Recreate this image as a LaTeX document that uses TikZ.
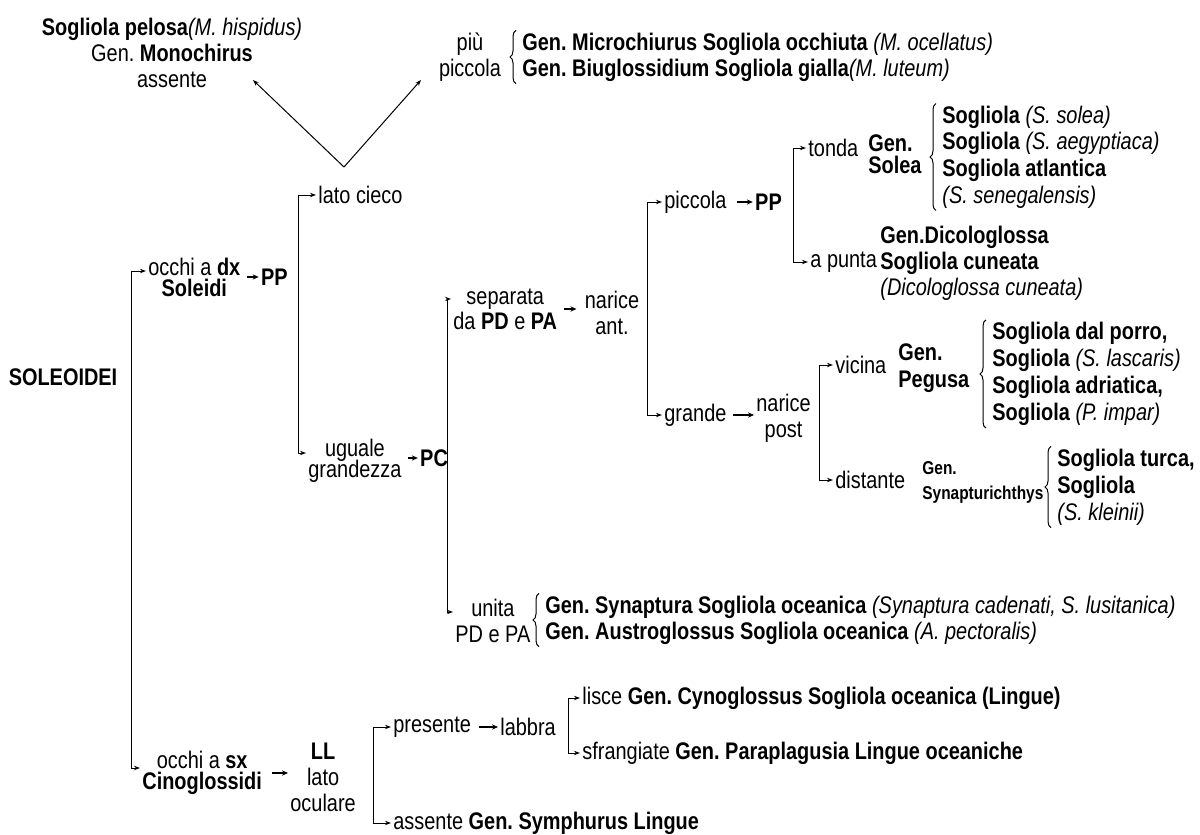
\documentclass[tikz,border=0pt]{standalone}
\usepackage{fontspec}
\setmainfont{Liberation Sans}[FakeStretch=0.83]
\usetikzlibrary{positioning,arrows.meta,decorations.pathreplacing}
\lineskiplimit=-10pt
\frenchspacing

\begin{document}
\begin{tikzpicture}[x=0.5pt,y=-0.5pt,
  every node/.style={inner sep=1pt, font=\fontsize{12}{13}\selectfont},
  txt/.style={anchor=west, align=left},
  ctr/.style={align=center},
  tight/.style={font=\fontsize{12}{10.5}\selectfont},
  bf/.style={font=\fontsize{12}{13}\selectfont\bfseries},
  brk/.style={line width=0.5pt, -{Stealth[length=3pt,width=2.2pt]}},
  arr/.style={line width=0.8pt, shorten <=2pt, -{Stealth[length=3pt,width=2.6pt]}},
  curly/.style={decorate, decoration={brace, amplitude=3pt}, line width=0.5pt}
]
\useasboundingbox (0,0) rectangle (1200,835);

% root and first split
\node[bf] (root) at (63,377) {SOLEOIDEI};
\coordinate (b0) at (131,520);
\node[tight, ctr, anchor=west] (dx) at (146,277) {occhi a \textbf{dx}\\\textbf{Soleidi}};
\node[bf, right=8pt of dx] (pp1) {PP};
\node[tight, ctr, anchor=west] (sx) at (140,773) {occhi a \textbf{sx}\\\textbf{Cinoglossidi}};
\draw[brk] (b0) |- ([yshift=3pt]dx.west);
\draw[brk] (b0) |- ([yshift=2.5pt]sx.west);
\draw[arr] (dx) -- (pp1);

% Soleidi: pinna pettorale
\coordinate (b1) at (298,325);
\node[anchor=west] (lato) at (316,195) {lato cieco};
\node[tight, ctr, anchor=west] (ugu) at (306,461) {uguale\\grandezza};
\node[bf, right=7pt of ugu, yshift=1.5pt] (pc) {PC};
\draw[brk] (b1) |- (lato.west);
\draw[brk] (b1) |- ([yshift=4pt]ugu.west);
\draw[arr] (ugu.east |- pc.west) -- (pc.west);

% lato cieco
\coordinate (v) at (344,167);
\coordinate (tipl) at (253,80);
\coordinate (tipr) at (421,80);
\node[ctr] (mono) at (172,53) {\textbf{Sogliola pelosa}\textit{(M. hispidus)}\\Gen. \textbf{Monochirus}\\assente};
\node[ctr] (piu) at (470,57) {più\\piccola};
\node[txt] (gen1) at (520,57) {\textbf{Gen. Microchiurus Sogliola occhiuta} \textit{(M. ocellatus)}\\\textbf{Gen. Biuglossidium Sogliola gialla}\textit{(M. luteum)}};
\draw[brk] (v) -- (tipl);
\draw[brk] (v) -- (tipr);
\draw[curly] ([xshift=-2pt]gen1.south west) -- ([xshift=-2pt]gen1.north west);

% pinna caudale
\coordinate (b2) at (447,455);
\node[ctr, anchor=west, font=\fontsize{12}{12.5}\selectfont] (sep) at (451,309) {separata\\da \textbf{PD} e \textbf{PA}};
\node[ctr] (ant) at (612,313) {narice\\ant.};
\node[ctr, anchor=west] (uni) at (453,621) {unita\\PD e PA};
\node[txt] (gen5) at (543,620) {\textbf{Gen. Synaptura Sogliola oceanica} \textit{(Synaptura cadenati, S. lusitanica)}\\\textbf{Gen. Austroglossus Sogliola oceanica} \textit{(A. pectoralis)}};
\draw[brk] (b2) |- ([yshift=5pt]sep.west);
\draw[brk] (b2) |- ([yshift=4.5pt]uni.west);
\draw[arr, shorten >=3pt] (sep.east) -- (sep.east -| ant.west);
\draw[curly] ([xshift=-2pt]gen5.south west) -- ([xshift=-2pt]gen5.north west);

% narice anteriore
\coordinate (b3) at (647,310);
\node[anchor=west] (picc) at (662,202) {piccola};
\node[bf, right=12pt of picc] (pp2) {PP};
\node[anchor=west] (gra) at (662,415) {grande};
\node[ctr, anchor=west] (post) at (754,418) {narice\\post};
\draw[brk] (b3) |- (picc.west);
\draw[brk] (b3) |- (gra.west);
\draw[arr, shorten <=4pt] (picc) -- (pp2);
\draw[arr] (gra.east) -- (gra.east -| post.west);

% Solea e Dicologlossa
\coordinate (b4) at (793,205);
\node[anchor=west] (tonda) at (806,148) {tonda};
\node[txt, font=\fontsize{12}{11}\selectfont\bfseries] (solea) at (866,154) {Gen.\\Solea};
\node[txt, font=\fontsize{12}{13.3}\selectfont] (sol) at (940,157) {\textbf{Sogliola} \textit{(S. solea)}\\\textbf{Sogliola} \textit{(S. aegyptiaca)}\\\textbf{Sogliola atlantica}\\\textit{(S. senegalensis)}};
\node[anchor=west] (punta) at (808,262) {a punta};
\node[txt] (dico) at (878,263) {\textbf{Gen.Dicologlossa}\\\textbf{Sogliola cuneata}\\\textit{(Dicologlossa cuneata)}};
\draw[brk] (b4) |- (tonda.west);
\draw[brk] (b4) |- (punta.west);
\draw[curly] ([xshift=-2pt]sol.south west) -- ([xshift=-2pt]sol.north west);

% narice posteriore
\coordinate (b5) at (819,420);
\node[anchor=west] (vic) at (833,365) {vicina};
\node[txt, font=\fontsize{12}{13.5}\selectfont\bfseries] (peg) at (896,368) {Gen.\\Pegusa};
\node[txt, font=\fontsize{12}{13.5}\selectfont] (porro) at (990,374) {\textbf{Sogliola dal porro,}\\\textbf{Sogliola} \textit{(S. lascaris)}\\\textbf{Sogliola adriatica,}\\\textbf{Sogliola} \textit{(P. impar)}};
\node[anchor=west] (dist) at (833,480) {distante};
\node[txt, font=\fontsize{9.3}{12.5}\selectfont\bfseries] (syn) at (920,482) {Gen.\\Synapturichthys};
\node[txt, font=\fontsize{12}{13.5}\selectfont] (turca) at (1055,487) {\textbf{Sogliola turca,}\\\textbf{Sogliola}\\\textit{(S. kleinii)}};
\draw[brk] (b5) |- (vic.west);
\draw[brk] (b5) |- (dist.west);
\draw[curly] ([xshift=-2pt]porro.south west) -- ([xshift=-2pt]porro.north west);
\draw[curly] ([xshift=-2pt]turca.south west) -- ([xshift=-2pt]turca.north west);

% Cinoglossidi
\coordinate (b6) at (373,775);
\node[ctr, anchor=west] (ll) at (288,777) {\textbf{LL}\\lato\\oculare};
\node[anchor=west] (pres) at (391,727) {presente};
\node[anchor=west] (lab) at (498,727) {labbra};
\node[anchor=west] (ass) at (391,823) {assente \textbf{Gen. Symphurus Lingue}};
\draw[arr, shorten <=4pt] (sx.east) -- (sx.east -| ll.west);
\draw[brk] (b6) |- (pres.west);
\draw[brk] (b6) |- (ass.west);
\draw[arr, shorten <=3pt] (pres) -- (lab);

\coordinate (b7) at (568,726);
\node[anchor=west] (lis) at (580,698) {lisce \textbf{Gen. Cynoglossus Sogliola oceanica (Lingue)}};
\node[anchor=west] (sfr) at (580,753) {sfrangiate \textbf{Gen. Paraplagusia Lingue oceaniche}};
\draw[brk] (b7) |- (lis.west);
\draw[brk] (b7) |- (sfr.west);

\end{tikzpicture}
\end{document}
